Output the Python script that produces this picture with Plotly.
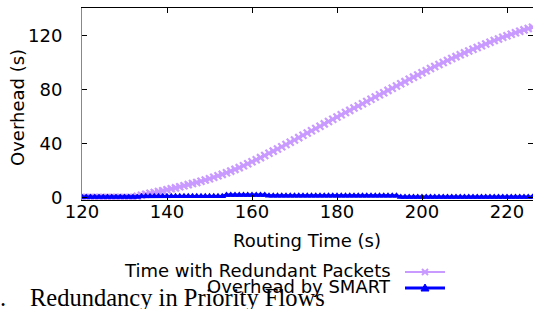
import plotly.graph_objects as go

# ---- data ----
time_s = list(range(120, 227))

redundant = [
    0.3, 0.3, 0.3, 0.3, 0.3, 0.3, 0.3, 0.3, 0.3, 0.3, 0.3, 0.3, 0.3,          # 120-132
    1.2, 2.0, 2.8, 3.5, 4.1, 4.8, 5.4, 6.1, 6.8, 7.5, 8.3, 9.1, 9.9,         # 133-145
    10.7, 11.5, 12.4, 13.3, 14.3, 15.3, 16.4, 17.5, 18.7, 19.9,              # 146-155
    21.2, 22.5, 23.9, 25.3, 26.8, 28.3, 29.9, 31.5, 33.1, 34.7,              # 156-165
    36.3, 37.9, 39.6, 41.3, 43.0, 44.7, 46.4, 48.1, 49.8, 51.5,              # 166-175
    53.2, 54.9, 56.6, 58.3, 60.0, 61.6, 63.3, 64.9, 66.6, 68.2,              # 176-185
    69.8, 71.5, 73.1, 74.8, 76.4, 78.0, 79.7, 81.3, 83.0, 84.6,              # 186-195
    86.2, 87.9, 89.5, 91.1, 92.7, 94.3, 95.9, 97.4, 98.9, 100.4,             # 196-205
    101.9, 103.3, 104.7, 106.1, 107.5, 108.9, 110.2, 111.5, 112.8, 114.1,    # 206-215
    115.4, 116.6, 117.8, 119.0, 120.2, 121.3, 122.4, 123.5, 124.5, 125.5,    # 216-225
    126.5,                                                                   # 226
]

smart = [
    0.8, 0.8, 0.8, 0.8, 0.8, 0.8, 0.8, 0.8, 0.8, 0.8, 0.8, 0.8, 0.8, 0.8,    # 120-133
    1.3, 1.3, 1.3, 1.3, 1.3, 1.3, 1.3, 1.3, 1.3, 1.3,                        # 134-143
    1.3, 1.3, 1.3, 1.3, 1.3, 1.3, 1.3, 1.3, 1.3, 1.3,                        # 144-153
    2.2, 2.2, 2.2, 2.2, 2.2, 2.2, 2.2, 2.2, 2.2, 2.2,                        # 154-163
    1.6, 1.6, 1.6, 1.6, 1.6, 1.6, 1.6, 1.6, 1.6, 1.6,                        # 164-173
    1.6, 1.6, 1.6, 1.6, 1.6, 1.6, 1.6, 1.6, 1.6, 1.6,                        # 174-183
    1.6, 1.6, 1.6, 1.6, 1.6, 1.6, 1.6, 1.6, 1.6, 1.6, 1.6,                   # 184-194
    0.8, 0.8, 0.8, 0.8, 0.8, 0.8, 0.8, 0.8, 0.8, 0.8,                        # 195-204
    0.8, 0.8, 0.8, 0.8, 0.8, 0.8, 0.8, 0.8, 0.8, 0.8,                        # 205-214
    0.8, 0.8, 0.8, 0.8, 0.8, 0.8, 0.8, 0.8, 0.8, 0.8, 0.8, 0.8,              # 215-226
]

series_names = ["Time with Redundant Packets", "Overhead by SMART"]
x_ticks = [120, 140, 160, 180, 200, 220]
y_ticks = [0, 40, 80, 120]
x_title = "Routing Time (s)"
y_title = "Overhead (s)"
caption = "Redundancy in Priority Flows"

PURPLE = "#c99aff"
BLUE = "#0000ff"
FONT = "DejaVu Sans"

W, H = 533, 309
L, R, T, B = 82, 0, 8, 109
pw, ph = W - L - R, H - T - B


def px_x(p):
    return (p - L) / pw


def px_y(p):
    return (H - B - p) / ph


fig = go.Figure()

fig.add_trace(go.Scatter(
    x=time_s, y=redundant, mode="lines+markers", name=series_names[0],
    line=dict(color=PURPLE, width=2),
    marker=dict(symbol="x-thin", size=7, line=dict(color=PURPLE, width=2.2), color=PURPLE),
    showlegend=False,
))
fig.add_trace(go.Scatter(
    x=time_s, y=smart, mode="lines+markers", name=series_names[1],
    line=dict(color=BLUE, width=3),
    marker=dict(symbol="triangle-up", size=7, color=BLUE),
    showlegend=False,
))

# legend samples drawn as shapes in paper coordinates
shapes = []
shapes.append(dict(type="line", xref="paper", yref="paper",
                   x0=px_x(405), x1=px_x(445), y0=px_y(272), y1=px_y(272),
                   line=dict(color=PURPLE, width=2)))
shapes.append(dict(type="line", xref="paper", yref="paper",
                   x0=px_x(422), x1=px_x(428), y0=px_y(269), y1=px_y(275),
                   line=dict(color=PURPLE, width=2)))
shapes.append(dict(type="line", xref="paper", yref="paper",
                   x0=px_x(422), x1=px_x(428), y0=px_y(275), y1=px_y(269),
                   line=dict(color=PURPLE, width=2)))
shapes.append(dict(type="line", xref="paper", yref="paper",
                   x0=px_x(405), x1=px_x(445), y0=px_y(288), y1=px_y(288),
                   line=dict(color=BLUE, width=3)))
shapes.append(dict(type="path", xref="paper", yref="paper",
                   path=f"M {px_x(421)} {px_y(291)} L {px_x(429)} {px_y(291)} L {px_x(425)} {px_y(284)} Z",
                   fillcolor=BLUE, line=dict(color=BLUE, width=1)))

annotations = [
    dict(text=x_title, xref="paper", yref="paper", x=px_x(307), y=px_y(240),
         xanchor="center", yanchor="middle", showarrow=False,
         font=dict(family=FONT, size=18, color="black")),
    dict(text=y_title, xref="paper", yref="paper", x=px_x(18), y=px_y(108),
         xanchor="center", yanchor="middle", showarrow=False, textangle=-90,
         font=dict(family=FONT, size=18, color="black")),
    dict(text=series_names[0], xref="paper", yref="paper", x=px_x(393), y=px_y(270),
         xanchor="right", yanchor="middle", showarrow=False,
         font=dict(family=FONT, size=18, color="black")),
    dict(text=series_names[1], xref="paper", yref="paper", x=px_x(393), y=px_y(286),
         xanchor="right", yanchor="middle", showarrow=False,
         font=dict(family=FONT, size=18, color="black")),
    dict(text=".", xref="paper", yref="paper", x=px_x(-2), y=px_y(297),
         xanchor="left", yanchor="middle", showarrow=False,
         font=dict(family="Liberation Serif", size=24.5, color="black")),
    dict(text=caption, xref="paper", yref="paper", x=px_x(28), y=px_y(297),
         xanchor="left", yanchor="middle", showarrow=False,
         font=dict(family="Liberation Serif", size=24.5, color="black")),
]

fig.update_layout(
    width=W, height=H,
    margin=dict(l=L, r=R, t=T, b=B, pad=0),
    paper_bgcolor="white", plot_bgcolor="white",
    font=dict(family=FONT, size=18, color="black"),
    annotations=annotations,
    shapes=shapes,
    xaxis=dict(
        range=[120, 120 + pw / 4.25], tickvals=x_ticks, ticks="inside", ticklen=5,
        tickcolor="black", showline=True, linecolor="black", linewidth=1, mirror="ticks",
        showgrid=False, zeroline=False, tickfont=dict(family=FONT, size=18),
        ticklabelstandoff=-5, automargin=False,
    ),
    yaxis=dict(
        range=[-1.5, -1.5 + ph / 1.35], tickvals=y_ticks, ticks="inside", ticklen=5,
        tickcolor="black", showline=True, linecolor="#888888", linewidth=1, mirror="ticks",
        showgrid=False, zeroline=False, tickfont=dict(family=FONT, size=18),
        ticklabelstandoff=15, automargin=False,
    ),
)

fig.write_html(
    "out.html",
    config={"displayModeBar": False},
    post_script="document.body.style.margin='0';document.body.style.overflow='hidden';",
)
